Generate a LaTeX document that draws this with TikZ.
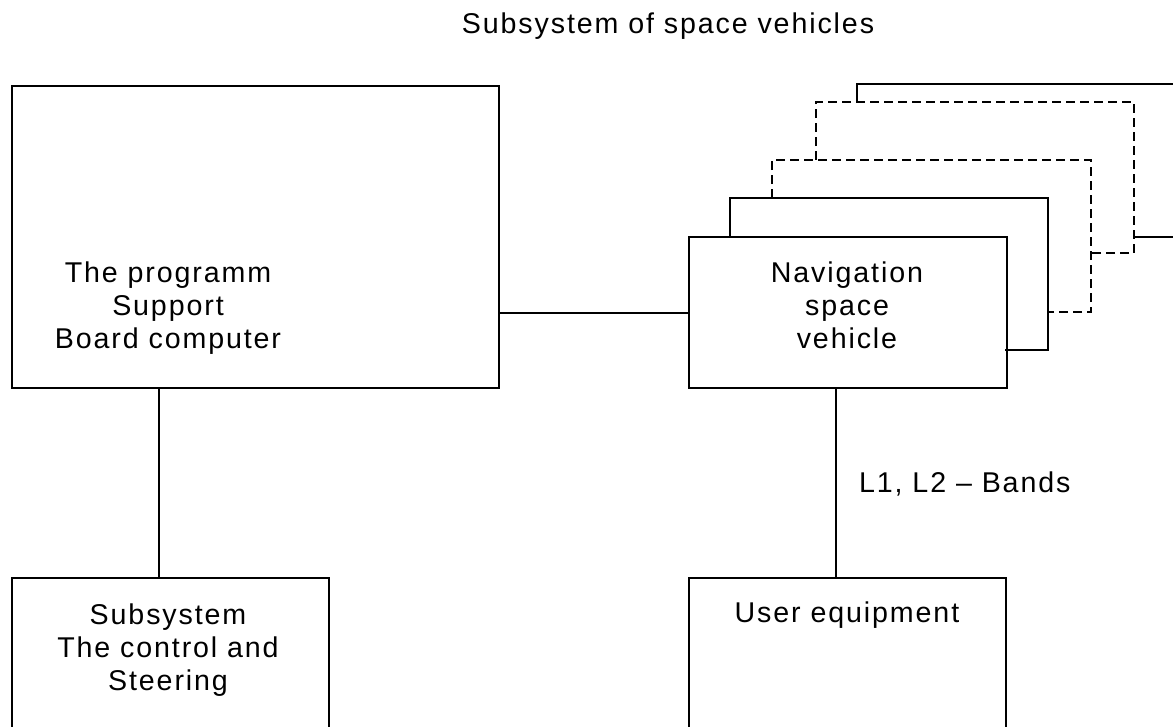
\documentclass[tikz,border=0pt]{standalone}
\usepackage{fontspec}
\setmainfont{Liberation Sans}[LetterSpace=6.6]
\begin{document}
\begin{tikzpicture}[x=1pt,y=-1pt,
  ln/.style={line width=2.3pt, line cap=rect},
  dsh/.style={line width=2.3pt, dash pattern=on 9pt off 5pt},
  box/.style={draw, line width=2.3pt, rectangle, inner sep=0pt, anchor=north west},
  lbl/.style={inner sep=0pt, align=center, anchor=base, font=\fontsize{28.6}{33}\selectfont},
  ttl/.style={inner sep=0pt, anchor=base, font=\fontsize{28.6}{33}\selectfont}]
\useasboundingbox (0,0) rectangle (1173,726);
% title
\node[ttl] (title) at (668,33) {Subsystem of space vehicles};
% stacked boxes behind the navigation box
\draw[ln] (857,102) -- (857,84) -- (1180,84);
\draw[ln] (1134,237) -- (1180,237);
\draw[dsh] (816,160) -- (816,102) -- (1134,102) -- (1134,253) -- (1091,253);
\draw[dsh] (772,198) -- (772,160) -- (1091,160) -- (1091,312) -- (1048,312);
\draw[ln] (730,236) -- (730,198) -- (1048,198) -- (1048,350) -- (1006,350);
% main boxes
\node[box, minimum width=487pt, minimum height=302pt] (prog) at (11,85) {};
\node[box, minimum width=318pt, minimum height=151pt] (nav) at (688,236) {};
\node[box, minimum width=317pt, minimum height=160pt] (ctrl) at (11,577) {};
\node[box, minimum width=317pt, minimum height=160pt] (user) at (688,577) {};
% labels (base anchor = baseline of the last line)
\node[lbl] (progt) at (168,348) {The programm\\Support\\Board computer};
\node[lbl] (navt) at (847,348) {Navigation\\space\\vehicle};
\node[lbl] (ctrlt) at (168,690) {Subsystem\\The control and\\Steering};
\node[lbl] (usert) at (847,622) {User equipment};
% connectors
\draw[ln] (nav.west) -- (nav.west -| prog.east);
\draw[ln] ([xshift=148pt]prog.south west) -- ([xshift=148pt]ctrl.north west);
\draw[ln] ([xshift=148pt]nav.south west) -- ([xshift=148pt]user.north west)
  node[pos=0.5, anchor=base west, inner sep=0pt, xshift=22pt, yshift=-9pt, font=\fontsize{28.6}{33}\selectfont] (bands) {L1, L2 -- Bands};
\end{tikzpicture}
\end{document}
